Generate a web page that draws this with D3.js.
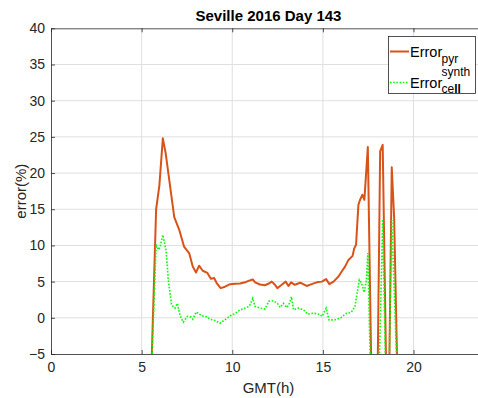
<!DOCTYPE html>
<html>
<head>
<meta charset="utf-8">
<script src="https://cdn.jsdelivr.net/npm/d3@7"></script>
<style>
  html, body { margin: 0; padding: 0; background: #fff; overflow: hidden; }
  svg { display: block; font-family: "Liberation Sans", Arial, Helvetica, sans-serif; }
</style>
</head>
<body>
<svg id="chart" width="478" height="398"></svg>
<script>
// Hour of day (GMT) and error (%) for the pyranometer reference
const pyrHours = [5.48, 5.80, 5.98, 6.17, 6.33, 6.80, 7.07, 7.34, 7.63, 7.82, 8.00, 8.17, 8.37, 8.63, 8.82,
  9.00, 9.14, 9.36, 9.60, 9.88, 10.15, 10.43, 10.71, 10.89, 11.13, 11.26, 11.53, 11.80, 11.99, 12.18,
  12.36, 12.49, 12.64, 12.73, 12.95, 13.10, 13.25, 13.45, 13.75, 14.11, 14.38, 14.66, 14.94, 15.18,
  15.36, 15.59, 15.86, 16.04, 16.23, 16.41, 16.64, 16.73, 16.83, 16.96, 17.05, 17.18, 17.29, 17.48,
  17.69, 18.01, 18.16, 18.30, 18.51, 18.65, 18.80, 18.93, 19.13];
const pyrError = [-12, 15.0, 18.3, 24.8, 22.7, 13.9, 12.2, 9.85, 8.9, 7.1, 6.26, 7.2, 6.5, 6.2, 5.4,
  5.5, 4.8, 4.1, 4.3, 4.65, 4.7, 4.74, 4.9, 5.1, 5.3, 4.9, 4.6, 4.5, 4.7, 5.0,
  4.56, 4.1, 4.4, 4.56, 5.0, 4.4, 4.9, 4.56, 4.85, 4.4, 4.65, 4.9, 5.0, 5.35,
  4.65, 5.0, 5.7, 6.4, 7.1, 8.0, 8.56, 9.6, 10.1, 15.6, 16.3, 17.0, 16.3, 23.6,
  -10, -10, 23.0, 23.9, -10, -10, 20.8, 14.0, -10];

// Hour of day (GMT) and error (%) for the synthetic cell
const cellHours = [5.48, 5.80, 5.93, 6.02, 6.17, 6.35, 6.47, 6.65, 6.84, 6.97, 7.12, 7.30, 7.52, 7.72, 7.82,
  8.00, 8.32, 8.57, 8.77, 9.05, 9.32, 9.60, 9.91, 10.16, 10.43, 10.71, 10.94, 11.13, 11.26, 11.53,
  11.80, 12.02, 12.27, 12.49, 12.64, 12.82, 13.01, 13.15, 13.27, 13.38, 13.65, 13.93, 14.16, 14.47,
  14.79, 14.96, 15.18, 15.34, 15.67, 15.99, 16.29, 16.56, 16.77, 16.92, 17.01, 17.13, 17.28, 17.40,
  17.48, 17.65, 18.08, 18.30, 18.48, 18.63, 18.80, 19.13];
const cellError = [-12, 10.1, 9.4, 9.8, 11.45, 9.3, 5.25, 1.8, 1.34, 2.0, 0.3, -0.6, 0.2, 0.1, -0.2,
  0.8, 0.3, 0.15, -0.2, -0.37, -0.75, -0.27, 0.3, 0.6, 1.1, 1.34, 1.6, 2.7, 1.56, 1.34,
  1.2, 2.3, 2.35, 2.0, 1.45, 2.0, 1.42, 2.0, 2.9, 1.1, 1.34, 1.1, 0.5, 0.65,
  0.5, 0.2, 1.34, -0.3, -0.27, 0.0, 0.6, 0.74, 1.56, 3.87, 5.25, 4.8, 3.5, 5.2,
  8.94, -10, -10, 13.6, -10, -10, 13.5, -10];

const xTicks = [0, 5, 10, 15, 20];
const yTicks = [-5, 0, 5, 10, 15, 20, 25, 30, 35, 40];

const svg = d3.select("#chart");
const plotLeft = 51, plotRight = 486, plotTop = 28.3, plotBottom = 354;
const axisColor = "#262626";

const x = d3.scaleLinear().domain([0, 24]).range([plotLeft, plotRight]);
const y = d3.scaleLinear().domain([-5, 40]).range([plotBottom, plotTop]);

svg.append("defs").append("clipPath").attr("id", "plotClip")
  .append("rect").attr("x", plotLeft).attr("y", plotTop)
  .attr("width", plotRight - plotLeft).attr("height", plotBottom - plotTop);

// grid
const grid = svg.append("g");
grid.selectAll("line.gx").data(xTicks.filter(d => d > 0)).join("line")
  .attr("x1", d => x(d)).attr("x2", d => x(d)).attr("y1", plotTop).attr("y2", plotBottom)
  .attr("stroke", "#dfdfdf").attr("stroke-width", 1);
grid.selectAll("line.gy").data(yTicks.filter(d => d > -5 && d < 40)).join("line")
  .attr("x1", plotLeft).attr("x2", plotRight).attr("y1", d => y(d)).attr("y2", d => y(d))
  .attr("stroke", "#dfdfdf").attr("stroke-width", 1);

// series
const plot = svg.append("g").attr("clip-path", "url(#plotClip)");
const line = d3.line().x(d => x(d[0])).y(d => y(d[1]));
const pyr = pyrHours.map((h, i) => [h, pyrError[i]]);
const cell = cellHours.map((h, i) => [h, cellError[i]]);

plot.append("path").attr("d", line(pyr)).attr("fill", "none")
  .attr("stroke", "#D95319").attr("stroke-width", 2).attr("stroke-linejoin", "round");
plot.append("path").attr("d", line(cell)).attr("fill", "none")
  .attr("stroke", "#00FF00").attr("stroke-width", 1.6).attr("stroke-dasharray", "1.6 1.6");

// axes (ticks inward, box on)
const xAxisB = d3.axisBottom(x).tickValues(xTicks).tickSizeInner(-4).tickSizeOuter(0).tickPadding(8);
const xAxisT = d3.axisTop(x).tickValues(xTicks).tickSizeInner(-4).tickSizeOuter(0).tickFormat("");
const yAxisL = d3.axisLeft(y).tickValues(yTicks).tickSizeInner(-4).tickSizeOuter(0).tickPadding(6);

function styleAxis(g) {
  g.select(".domain").attr("stroke", axisColor).attr("stroke-width", 0.8);
  g.selectAll(".tick line").attr("stroke", axisColor).attr("stroke-width", 0.8);
  g.selectAll(".tick text").attr("fill", axisColor).attr("font-size", 14)
    .attr("font-family", "Liberation Sans, Arial, sans-serif");
}
svg.append("g").attr("transform", `translate(0,${plotBottom})`).call(xAxisB).call(styleAxis);
svg.append("g").attr("transform", `translate(0,${plotTop})`).call(xAxisT).call(styleAxis);
svg.append("g").attr("transform", `translate(${plotLeft},0)`).call(yAxisL).call(styleAxis);

// title and axis labels
svg.append("text").attr("x", (plotLeft + plotRight) / 2).attr("y", 20.5).attr("text-anchor", "middle")
  .attr("font-size", 15).attr("font-weight", "bold").attr("fill", "#000").text("Seville 2016 Day 143");
svg.append("text").attr("x", (plotLeft + plotRight) / 2).attr("y", 393).attr("text-anchor", "middle")
  .attr("font-size", 15).attr("fill", axisColor).text("GMT(h)");
svg.append("text").attr("transform", `translate(26,${(plotTop + plotBottom) / 2}) rotate(-90)`)
  .attr("text-anchor", "middle").attr("font-size", 15).attr("fill", axisColor).text("error(%)");

// legend
const lg = svg.append("g");
lg.append("rect").attr("x", 388.5).attr("y", 36.5).attr("width", 87).attr("height", 57)
  .attr("fill", "#fff").attr("stroke", axisColor).attr("stroke-width", 0.8);
lg.append("line").attr("x1", 390).attr("x2", 409).attr("y1", 51.5).attr("y2", 51.5)
  .attr("stroke", "#D95319").attr("stroke-width", 2);
lg.append("line").attr("x1", 390).attr("x2", 409).attr("y1", 82.5).attr("y2", 82.5)
  .attr("stroke", "#00FF00").attr("stroke-width", 1.6).attr("stroke-dasharray", "1.6 1.6");
lg.append("text").attr("x", 410).attr("y", 56.5).attr("font-size", 14.5).attr("fill", "#000").text("Error");
lg.append("text").attr("x", 441.5).attr("y", 63).attr("font-size", 12).attr("fill", "#000").text("pyr");
lg.append("text").attr("x", 410).attr("y", 87.5).attr("font-size", 14.5).attr("fill", "#000").text("Error");
lg.append("text").attr("x", 441.5).attr("y", 76).attr("font-size", 12).attr("fill", "#000").text("synth");
const cellLabel = lg.append("text").attr("x", 441.5).attr("y", 93).attr("font-size", 12).attr("fill", "#000");
cellLabel.append("tspan").text("ce");
cellLabel.append("tspan").attr("font-weight", "bold").text("ll");
</script>
</body>
</html>
